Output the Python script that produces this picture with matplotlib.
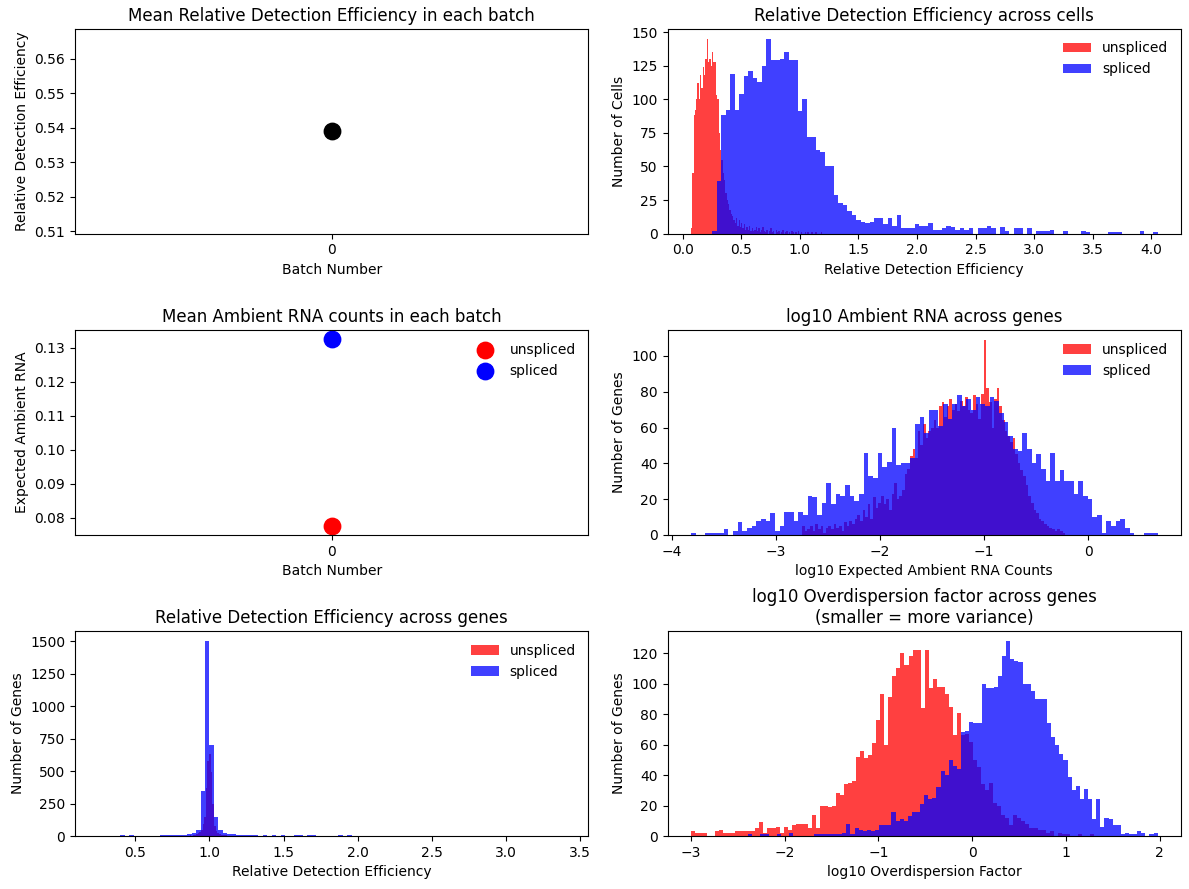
import numpy as np
import matplotlib
matplotlib.use("Agg")
import matplotlib.pyplot as plt

# batch level means
batches = [0]
mean_det_eff = [0.539]
mean_ambient_unspliced = [0.0777]
mean_ambient_spliced = [0.1325]

# detection efficiency across cells (bin range, counts)
cells_u_range = (0.07, 1.20)
cells_u_counts = [4, 45, 88, 92, 100, 112, 100, 118, 108, 124,
                  118, 130, 145, 128, 130, 125, 135, 128, 128, 103,
                  100, 75, 62, 55, 45, 40, 30, 25, 22, 18,
                  15, 13, 10, 8, 12, 6, 10, 5, 8, 4,
                  7, 3, 5, 3, 6, 2, 4, 2, 3, 5,
                  2, 4, 1, 3, 5, 2, 1, 3, 0, 2,
                  4, 1, 2, 0, 3, 1, 2, 0, 1, 3,
                  0, 1, 2, 0, 1, 0, 2, 1, 0, 1,
                  0, 2, 0, 1, 0, 0, 1, 0, 1, 0,
                  0, 1, 0, 0, 1, 0, 0, 0, 1, 0]
cells_s_range = (0.253, 4.054)
cells_s_counts = [2, 39, 88, 92, 119, 92, 104, 117, 121, 116,
                  113, 125, 145, 129, 129, 130, 135, 129, 129, 91,
                  100, 72, 72, 62, 61, 50, 50, 29, 23, 21,
                  17, 14, 10, 9, 8, 9, 12, 12, 7, 12,
                  6, 14, 4, 4, 4, 7, 6, 6, 8, 3,
                  3, 4, 6, 5, 3, 4, 3, 4, 0, 4,
                  4, 6, 4, 0, 5, 2, 0, 4, 4, 0,
                  4, 0, 2, 2, 2, 3, 0, 0, 2, 0,
                  0, 0, 2, 1, 0, 0, 0, 0, 1, 1,
                  1, 0, 0, 0, 0, 2, 0, 0, 1]

# log10 ambient RNA across genes
amb_u_range = (-2.75, -0.22)
amb_u_counts = [5, 2, 3, 5, 2, 6, 3, 5, 1, 4,
                5, 3, 6, 4, 5, 2, 7, 5, 8, 6,
                9, 11, 8, 14, 10, 17, 9, 21, 15, 18,
                22, 17, 20, 14, 23, 29, 20, 22, 25, 34,
                37, 44, 48, 43, 58, 50, 62, 54, 58, 60,
                64, 60, 72, 74, 66, 72, 76, 70, 73, 69,
                75, 72, 77, 70, 68, 78, 73, 65, 79, 109,
                82, 74, 60, 76, 82, 72, 64, 58, 55, 52,
                54, 45, 40, 36, 33, 28, 22, 18, 14, 12,
                9, 8, 6, 5, 4, 3, 2, 3, 2, 1]
amb_s_range = (-3.82, 0.67)
amb_s_counts = [1, 0, 0, 1, 1, 1, 1, 3, 0, 2,
                7, 2, 4, 5, 8, 9, 8, 12, 2, 5,
                13, 13, 8, 13, 11, 22, 21, 11, 18, 29,
                17, 23, 22, 28, 22, 19, 23, 46, 33, 32,
                46, 38, 41, 60, 39, 40, 40, 43, 62, 66,
                57, 70, 70, 61, 73, 65, 73, 78, 72, 76,
                70, 77, 73, 72, 77, 75, 68, 63, 55, 48,
                47, 57, 48, 40, 45, 37, 30, 46, 30, 36,
                30, 30, 23, 30, 22, 20, 10, 11, 1, 8,
                5, 8, 9, 4, 1, 0, 0, 1, 1, 1]

# detection efficiency across genes
genes_u_range = (0.25, 1.35)
genes_u_counts = [1, 0, 0, 0, 0, 0, 0, 0, 0, 0,
                  0, 0, 0, 0, 0, 0, 0, 0, 0, 0,
                  0, 0, 0, 0, 0, 0, 0, 0, 0, 0,
                  0, 0, 0, 0, 0, 0, 0, 1, 0, 0,
                  1, 0, 0, 1, 0, 1, 0, 1, 1, 0,
                  2, 1, 2, 1, 3, 2, 4, 3, 6, 8,
                  15, 20, 30, 45, 90, 150, 370, 580, 630, 490,
                  250, 80, 40, 20, 12, 8, 6, 5, 4, 3,
                  3, 2, 2, 2, 1, 1, 1, 1, 0, 1,
                  0, 1, 0, 0, 1, 0, 0, 0, 0, 1]
genes_s_range = (0.40, 3.40)
genes_s_counts = [8, 0, 8, 0, 0, 0, 0, 0, 0, 5,
                  5, 5, 6, 5, 8, 12, 25, 50, 345, 1500,
                  700, 145, 50, 20, 12, 12, 10, 8, 5, 4,
                  4, 3, 4, 3, 4, 3, 5, 3, 2, 6,
                  6, 2, 6, 6, 1, 1, 1, 2, 1, 5,
                  1, 6, 0, 0, 0, 0, 0, 0, 0, 0,
                  0, 0, 0, 0, 0, 0, 0, 0, 0, 0,
                  0, 0, 0, 0, 0, 0, 0, 0, 0, 0,
                  0, 0, 0, 0, 0, 0, 0, 0, 0, 0,
                  0, 0, 0, 0, 0, 0, 0, 0, 0, 1]

# log10 overdispersion across genes
od_u_range = (-3.0, 1.3)
od_u_counts = [3, 2, 2, 2, 0, 0, 3, 4, 2, 2,
               2, 3, 3, 3, 3, 3, 5, 9, 2, 5,
               5, 6, 2, 6, 4, 7, 8, 8, 8, 5,
               14, 5, 20, 20, 19, 20, 28, 27, 34, 35,
               36, 52, 56, 51, 53, 61, 76, 93, 60, 91,
               105, 110, 120, 112, 118, 122, 122, 84, 122, 97,
               103, 98, 98, 93, 85, 66, 81, 66, 67, 62,
               50, 45, 34, 30, 35, 22, 20, 14, 12, 7,
               14, 12, 10, 8, 5, 5, 4, 4, 2, 3,
               0, 2, 1, 1, 0, 0, 1, 0, 0, 1]
od_s_range = (-2.39, 1.98)
od_s_counts = [1, 0, 0, 1, 1, 0, 0, 1, 0, 0,
               2, 0, 0, 0, 0, 0, 1, 1, 1, 1,
               1, 1, 1, 2, 8, 1, 5, 4, 3, 4,
               3, 4, 7, 7, 7, 16, 10, 11, 10, 13,
               16, 16, 21, 27, 24, 25, 32, 43, 40, 50,
               46, 44, 68, 69, 75, 74, 74, 100, 97, 97,
               98, 105, 118, 128, 116, 115, 114, 100, 100, 95,
               90, 90, 90, 74, 65, 60, 54, 50, 39, 30,
               33, 24, 31, 24, 11, 24, 6, 12, 11, 7,
               7, 1, 2, 1, 1, 3, 2, 0, 1, 2]


def draw_hist(ax, rng, counts, color, label):
    edges = np.linspace(rng[0], rng[1], len(counts) + 1)
    ax.hist(edges[:-1], bins=edges, weights=counts,
            color=color, alpha=0.75, label=label)


fig, axes = plt.subplots(3, 2, figsize=(11.89, 8.89), dpi=100)
fig.subplots_adjust(left=0.063, right=0.9933, top=0.9674, bottom=0.0596,
                    wspace=0.154, hspace=0.471)

ax = axes[0, 0]
ax.scatter(batches, mean_det_eff, s=140, color="black")
ax.set_xticks(batches)
ax.set_title("Mean Relative Detection Efficiency in each batch")
ax.set_xlabel("Batch Number")
ax.set_ylabel("Relative Detection Efficiency")

ax = axes[0, 1]
draw_hist(ax, cells_u_range, cells_u_counts, "red", "unspliced")
draw_hist(ax, cells_s_range, cells_s_counts, "blue", "spliced")
ax.legend(loc="upper right", frameon=False)
ax.set_title("Relative Detection Efficiency across cells")
ax.set_xlabel("Relative Detection Efficiency")
ax.set_ylabel("Number of Cells")

ax = axes[1, 0]
ax.scatter(batches, mean_ambient_unspliced, s=140, color="red", label="unspliced")
ax.scatter(batches, mean_ambient_spliced, s=140, color="blue", label="spliced")
ax.set_xticks(batches)
ax.legend(loc="upper right", frameon=False)
ax.set_title("Mean Ambient RNA counts in each batch")
ax.set_xlabel("Batch Number")
ax.set_ylabel("Expected Ambient RNA")

ax = axes[1, 1]
draw_hist(ax, amb_u_range, amb_u_counts, "red", "unspliced")
draw_hist(ax, amb_s_range, amb_s_counts, "blue", "spliced")
ax.legend(loc="upper right", frameon=False)
ax.set_title("log10 Ambient RNA across genes")
ax.set_xlabel("log10 Expected Ambient RNA Counts")
ax.set_ylabel("Number of Genes")

ax = axes[2, 0]
draw_hist(ax, genes_u_range, genes_u_counts, "red", "unspliced")
draw_hist(ax, genes_s_range, genes_s_counts, "blue", "spliced")
ax.legend(loc="upper right", frameon=False)
ax.set_title("Relative Detection Efficiency across genes")
ax.set_xlabel("Relative Detection Efficiency")
ax.set_ylabel("Number of Genes")

ax = axes[2, 1]
draw_hist(ax, od_u_range, od_u_counts, "red", "unspliced")
draw_hist(ax, od_s_range, od_s_counts, "blue", "spliced")
ax.set_title("log10 Overdispersion factor across genes\n(smaller = more variance)")
ax.set_xlabel("log10 Overdispersion Factor")
ax.set_ylabel("Number of Genes")

fig.savefig("out.png")
